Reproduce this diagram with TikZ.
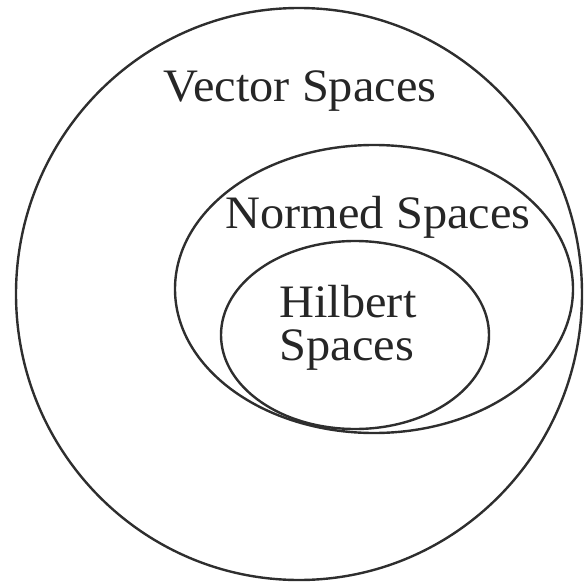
\documentclass[tikz,border=0pt]{standalone}
\usepackage{fontspec}
\setmainfont[FakeStretch=1.04]{Liberation Serif}
\begin{document}
\begin{tikzpicture}[x=1pt,y=-1pt,
  setline/.style={draw=black!82,line width=2.4pt},
  setlabel/.style={font=\fontsize{46.5}{42}\selectfont,text=black!85,inner sep=0pt,anchor=base,align=center}]
\useasboundingbox (0,0) rectangle (585,586);
\draw[setline] (299,294) ellipse [x radius=283pt,y radius=286pt];
\draw[setline] (374,289) ellipse [x radius=199pt,y radius=144pt];
\draw[setline] (355,335) ellipse [x radius=134pt,y radius=94pt];
\node[setlabel] (vec) at (300,101) {Vector Spaces};
\node[setlabel] (norm) at (378,228) {Normed Spaces};
\node[setlabel] (hil) at (348,317) {Hilbert};
\node[setlabel] (hilsp) at (347,360) {Spaces};
\end{tikzpicture}
\end{document}
